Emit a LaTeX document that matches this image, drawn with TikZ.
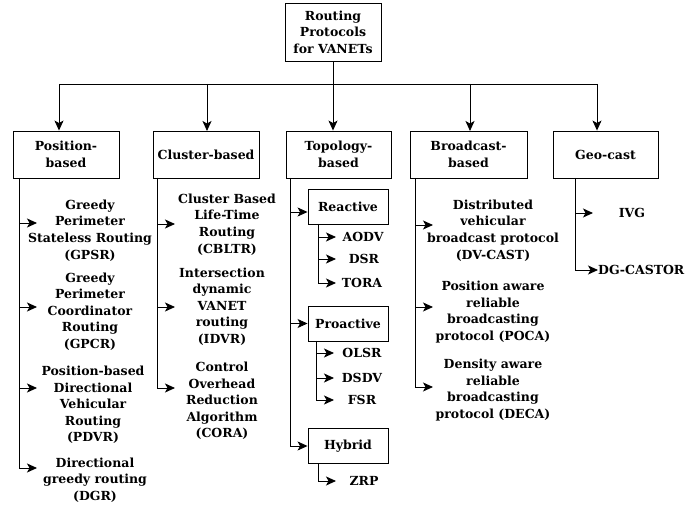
\documentclass[tikz,border=0pt]{standalone}
\usepackage{fontspec}
\setmainfont{DejaVu Serif}[BoldFont={DejaVu Serif Bold}]
\usetikzlibrary{arrows.meta}
\begin{document}
\begin{tikzpicture}[x=1pt,y=-1pt,
  every node/.style={font=\bfseries\fontsize{12.5}{16.6}\selectfont, align=center, inner sep=0pt},
  box/.style={draw, line width=0.9pt, minimum height=47pt},
  subbox/.style={draw, line width=0.9pt, minimum width=80pt, minimum height=35pt},
  conn/.style={line width=0.9pt},
  arr/.style={line width=0.9pt, -{Stealth[length=10pt,width=9pt,inset=2.5pt]}}
]
\useasboundingbox (0,0) rectangle (686,513);
% root
\node[draw, line width=0.9pt, minimum width=96pt, minimum height=58pt] (root) at (333,32) {Routing\\Protocols\\for VANETs};
% categories
\node[box, minimum width=106pt] (pos) at (66,154.5) {Position-\\based};
\node[box, minimum width=106pt] (clu) at (206,154.5) {Cluster-based};
\node[box, minimum width=105pt] (top) at (338.5,154.5) {Topology-\\based};
\node[box, minimum width=117pt] (bro) at (468.5,154.5) {Broadcast-\\based};
\node[box, minimum width=105pt] (geo) at (605.5,154.5) {Geo-cast};
% bus
\coordinate (bus) at (333,84);
\coordinate (bl) at (59,84);
\coordinate (br) at (597,84);
\draw[conn] (root.south) -- (bus);
\draw[conn] (bl) -- (br);
\draw[arr] (bl) -- (bl |- pos.north);
\draw[arr] (207,84) -- (207,131);
\draw[arr] (bus) -- (bus |- top.north);
\draw[arr] (470,84) -- (470,131);
\draw[arr] (br) -- (br |- geo.north);

% Position-based items
\node (gpsr) at (90,230.5) {Greedy\\Perimeter\\Stateless Routing\\(GPSR)};
\node (gpcr) at (90,311.5) {Greedy\\Perimeter\\Coordinator\\Routing\\(GPCR)};
\node (pdvr) at (93,405) {Position-based\\Directional\\Vehicular\\Routing\\(PDVR)};
\node (dgr) at (95,480) {Directional\\greedy routing\\(DGR)};
\coordinate (p0) at (19,178);
\coordinate (p1) at (19,223); \coordinate (p1t) at (37,223);
\coordinate (p2) at (19,307); \coordinate (p2t) at (37,307);
\coordinate (p3) at (19,388); \coordinate (p3t) at (37,388);
\coordinate (p4) at (19,468); \coordinate (p4t) at (37,468);
\draw[conn] (p0) -- (p4);
\draw[arr] (p1) -- (p1t);
\draw[arr] (p2) -- (p2t);
\draw[arr] (p3) -- (p3t);
\draw[arr] (p4) -- (p4t);

% Cluster-based items
\node (cbltr) at (227,224.5) {Cluster Based\\Life-Time\\Routing\\(CBLTR)};
\node (idvr) at (222,306.5) {Intersection\\dynamic\\VANET\\routing\\(IDVR)};
\node (cora) at (222,401) {Control\\Overhead\\Reduction\\Algorithm\\(CORA)};
\coordinate (c0) at (157,178);
\coordinate (c1) at (157,224); \coordinate (c1t) at (175,224);
\coordinate (c2) at (157,307); \coordinate (c2t) at (175,307);
\coordinate (c3) at (157,388); \coordinate (c3t) at (175,388);
\draw[conn] (c0) -- (c3);
\draw[arr] (c1) -- (c1t);
\draw[arr] (c2) -- (c2t);
\draw[arr] (c3) -- (c3t);

% Topology-based items
\node[subbox] (rea) at (348,206.5) {Reactive};
\node[subbox] (pro) at (348,323.5) {Proactive};
\node[subbox] (hyb) at (348,446) {Hybrid};
\coordinate (t0) at (290,178);
\coordinate (t1) at (290,212);
\coordinate (t2) at (290,323.5);
\coordinate (t3) at (290,446);
\draw[conn] (t0) -- (t3);
\draw[arr] (t1) -- (t1 -| rea.west);
\draw[arr] (t2) -- (pro.west);
\draw[arr] (t3) -- (hyb.west);

\node (aodv) at (363,237) {AODV};
\node (dsr) at (364,259) {DSR};
\node (tora) at (362,283) {TORA};
\coordinate (r0) at (318,224);
\coordinate (r1) at (318,237); \coordinate (r1t) at (336,237);
\coordinate (r2) at (318,259); \coordinate (r2t) at (336,259);
\coordinate (r3) at (318,283); \coordinate (r3t) at (336,283);
\draw[conn] (r0) -- (r3);
\draw[arr] (r1) -- (r1t);
\draw[arr] (r2) -- (r2t);
\draw[arr] (r3) -- (r3t);

\node (olsr) at (362,353) {OLSR};
\node (dsdv) at (362,378) {DSDV};
\node (fsr) at (362,400) {FSR};
\coordinate (o0) at (316,341);
\coordinate (o1) at (316,353); \coordinate (o1t) at (334,353);
\coordinate (o2) at (316,378); \coordinate (o2t) at (334,378);
\coordinate (o3) at (316,400); \coordinate (o3t) at (334,400);
\draw[conn] (o0) -- (o3);
\draw[arr] (o1) -- (o1t);
\draw[arr] (o2) -- (o2t);
\draw[arr] (o3) -- (o3t);

\node (zrp) at (364,481) {ZRP};
\coordinate (h0) at (318,464);
\coordinate (h1) at (318,481); \coordinate (h1t) at (336,481);
\draw[conn] (h0) -- (h1);
\draw[arr] (h1) -- (h1t);

% Broadcast-based items
\node (dvcast) at (493,230.5) {Distributed\\vehicular\\broadcast protocol\\(DV-CAST)};
\node (poca) at (493,312) {Position aware\\reliable\\broadcasting\\protocol (POCA)};
\node (deca) at (493,390) {Density aware\\reliable\\broadcasting\\protocol (DECA)};
\coordinate (b0) at (415,178);
\coordinate (b1) at (415,225); \coordinate (b1t) at (433,225);
\coordinate (b2) at (415,307); \coordinate (b2t) at (433,307);
\coordinate (b3) at (415,387); \coordinate (b3t) at (433,387);
\draw[conn] (b0) -- (b3);
\draw[arr] (b1) -- (b1t);
\draw[arr] (b2) -- (b2t);
\draw[arr] (b3) -- (b3t);

% Geo-cast items
\node (ivg) at (632,213) {IVG};
\node[anchor=west] (dgc) at (598,270) {DG-CASTOR};
\coordinate (g0) at (575,178);
\coordinate (g1) at (575,213); \coordinate (g1t) at (593,213);
\coordinate (g2) at (575,270);
\draw[conn] (g0) -- (g2);
\draw[arr] (g1) -- (g1t);
\draw[arr] (g2) -- (dgc.west);
\end{tikzpicture}
\end{document}
